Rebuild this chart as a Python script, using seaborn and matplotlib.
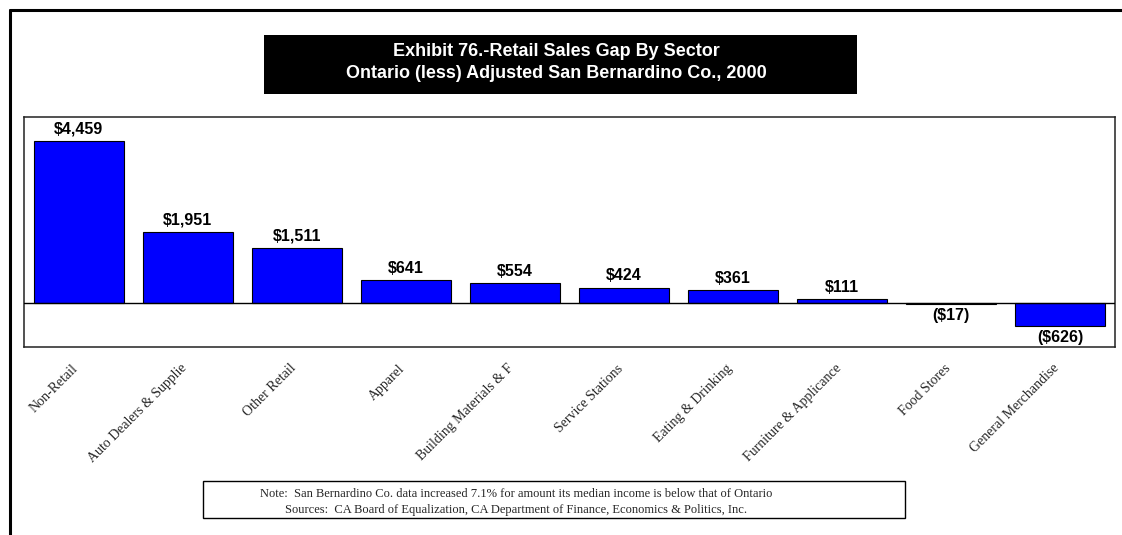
import matplotlib
matplotlib.use("Agg")
import matplotlib.pyplot as plt
from matplotlib.lines import Line2D
from matplotlib.patches import Rectangle
from matplotlib.transforms import ScaledTranslation
import seaborn as sns
import pandas as pd

# Retail sales gap by sector ($000s), Ontario less adjusted San Bernardino Co.
sectors = [
    "Non-Retail", "Auto Dealers & Supplie", "Other Retail", "Apparel",
    "Building Materials & F", "Service Stations", "Eating & Drinking",
    "Furniture & Applicance", "Food Stores", "General Merchandise",
]
gap = [4459, 1951, 1511, 641, 554, 424, 361, 111, -17, -626]

title_lines = [
    "Exhibit 76.-Retail Sales Gap By Sector",
    "Ontario (less) Adjusted San Bernardino Co., 2000",
]
note_lines = [
    "Note:  San Bernardino Co. data increased 7.1% for amount its median income is below that of Ontario",
    "Sources:  CA Board of Equalization, CA Department of Finance, Economics & Politics, Inc.",
]

df = pd.DataFrame({"sector": sectors, "gap": gap})

sns.set_style("white")
plt.rcParams["font.family"] = ["Liberation Sans", "DejaVu Sans"]

W, H, DPI = 1122, 535, 100
fig = plt.figure(figsize=(W / DPI, H / DPI), dpi=DPI)
fig.patch.set_facecolor("white")


def fx(px):
    return px / W


def fy(py):
    return 1 - py / H


# plot area
ax = fig.add_axes([fx(24), fy(347), fx(1115) - fx(24), fy(117) - fy(347)])
sns.barplot(data=df, x="sector", y="gap", color="#0000FF", saturation=1,
            width=0.825, edgecolor="black", linewidth=0.8, ax=ax, zorder=2)
ax.set_xlim(-0.5, len(sectors) - 0.5)
ax.set_ylim(-1210, 5120)
ax.axhline(0, color="black", lw=1.0, zorder=3)
ax.set_xlabel("")
ax.set_ylabel("")
ax.set_yticks([])
for s in ax.spines.values():
    s.set_visible(True)
    s.set_color("#222222")
    s.set_linewidth(1.1)

# value labels
labels = [f"${v:,}" if v >= 0 else f"(${-v:,})" for v in gap]
ax.bar_label(ax.containers[0], labels=labels, padding=3,
             fontsize=11.5, fontweight="bold", color="black")

# rotated category labels
ax.set_xticks(range(len(sectors)))
ax.set_xticklabels(sectors, fontsize=10, family=["Liberation Serif"])
ax.tick_params(axis="x", length=0, pad=14)
shift = ScaledTranslation(-3 / DPI, 0, fig.dpi_scale_trans)
for lab in ax.get_xticklabels():
    lab.set_rotation(45)
    lab.set_ha("right")
    lab.set_va("center")
    lab.set_rotation_mode("anchor")
    lab.set_transform(lab.get_transform() + shift)

# outer frame (top and left edges)
fig.add_artist(Line2D([fx(9.5), 1.0], [fy(9.5), fy(9.5)], color="black", lw=2.2))
fig.add_artist(Line2D([fx(9.5), fx(9.5)], [fy(9.5), 0.0], color="black", lw=2.2))

# title block
fig.add_artist(Rectangle((fx(264), fy(94)), fx(857) - fx(264), fy(35) - fy(94),
                         facecolor="black", edgecolor="none"))
fig.text(fx(556), fy(51.5), title_lines[0], color="white", fontsize=13,
         fontweight="bold", ha="center", va="center")
fig.text(fx(556), fy(73.5), title_lines[1], color="white", fontsize=13,
         fontweight="bold", ha="center", va="center")

# note block
fig.add_artist(Rectangle((fx(203), fy(518)), fx(905) - fx(203), fy(481) - fy(518),
                         facecolor="white", edgecolor="black", lw=1.0))
fig.text(fx(516), fy(494), note_lines[0], fontsize=9, family=["Liberation Serif"],
         ha="center", va="center")
fig.text(fx(516), fy(510), note_lines[1], fontsize=9, family=["Liberation Serif"],
         ha="center", va="center")

fig.savefig("out.png", dpi=DPI, facecolor="white")
